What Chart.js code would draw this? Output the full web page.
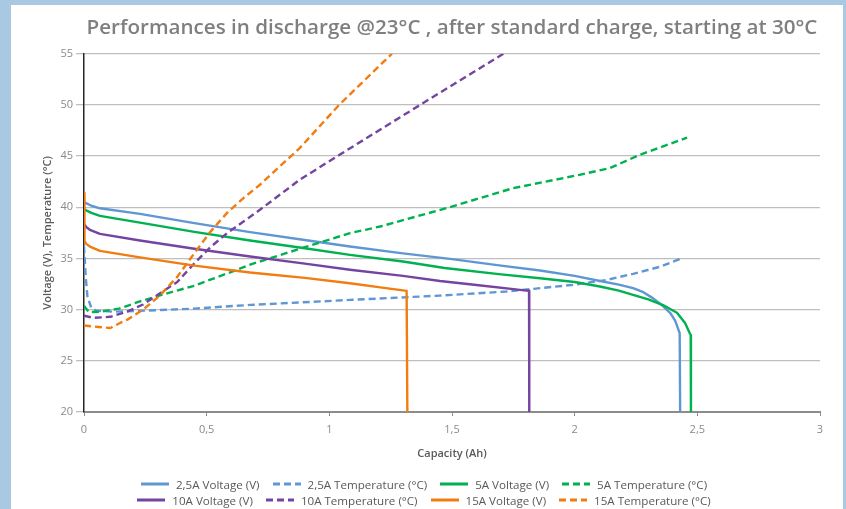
<!DOCTYPE html>
<html><head><meta charset="utf-8">
<script src="https://cdn.jsdelivr.net/npm/chart.js@4/dist/chart.umd.min.js"></script>
<style>
html,body{margin:0;padding:0;}
body{width:846px;height:509px;background:#a9c9e2;position:relative;overflow:hidden;font-family:'Open Sans',sans-serif;}
#panel{position:absolute;left:11px;top:5px;width:832px;height:504px;background:#fff;}
#c{position:absolute;left:0;top:0;}
#legend{position:absolute;left:-3px;top:471px;width:832px;font-size:11.6px;color:#595959;}
.row{display:flex;justify-content:center;gap:13px;height:16px;align-items:center;}
.item{display:flex;align-items:center;gap:7px;white-space:nowrap;}
</style></head><body>
<div id="panel"><canvas id="c" width="832" height="504"></canvas><div id="legend"></div></div>
<script>
const TITLE = 'Performances in discharge @23°C , after standard charge, starting at 30°C';
const X_TITLE = 'Capacity (Ah)';
const Y_TITLE = 'Voltage (V), Temperature (°C)';

// 2,5A
const cap25V  = [0, 0.03, 0.065, 0.228, 0.45, 0.677, 0.9, 1.084, 1.3, 1.492, 1.7, 1.859, 2.0, 2.103, 2.18, 2.238, 2.28, 2.32, 2.36, 2.39, 2.41, 2.428, 2.43];
const volt25  = [40.5, 40.15, 39.9, 39.36, 38.45, 37.57, 36.8, 36.17, 35.5, 34.96, 34.3, 33.82, 33.3, 32.8, 32.45, 32.1, 31.7, 31.1, 30.35, 29.65, 28.9, 27.7, 20];
const cap25T  = [0, 0.007, 0.014, 0.03, 0.05, 0.12, 0.3, 0.45, 0.677, 1.084, 1.451, 1.723, 1.993, 2.13, 2.238, 2.35, 2.44];
const temp25  = [36.2, 33.2, 31.3, 30.14, 29.9, 29.8, 29.95, 30.1, 30.46, 30.95, 31.37, 31.77, 32.42, 32.9, 33.5, 34.2, 35.05];
// 5A
const cap5V   = [0, 0.03, 0.065, 0.228, 0.45, 0.677, 0.9, 1.084, 1.3, 1.47, 1.7, 1.859, 2.0, 2.103, 2.18, 2.238, 2.3, 2.36, 2.417, 2.45, 2.473, 2.474];
const volt5   = [39.8, 39.45, 39.16, 38.5, 37.6, 36.75, 36.0, 35.35, 34.7, 34.07, 33.45, 33.06, 32.7, 32.26, 31.85, 31.44, 31.0, 30.45, 29.7, 28.7, 27.5, 20];
const cap5T   = [0, 0.02, 0.065, 0.143, 0.228, 0.31, 0.445, 0.58, 0.677, 0.9, 1.084, 1.207, 1.478, 1.75, 2.02, 2.144, 2.266, 2.458];
const temp5   = [30.37, 29.75, 29.8, 30.1, 30.8, 31.4, 32.3, 33.5, 34.4, 36.1, 37.47, 38.12, 39.92, 41.87, 43.17, 43.83, 45.13, 46.8];
// 10A
const cap10V  = [0, 0.01, 0.024, 0.065, 0.228, 0.45, 0.677, 0.9, 1.084, 1.3, 1.451, 1.6, 1.777, 1.814, 1.815];
const volt10  = [38.4, 38.05, 37.8, 37.4, 36.75, 35.95, 35.19, 34.5, 33.9, 33.3, 32.8, 32.4, 31.93, 31.85, 20];
const cap10T  = [0, 0.04, 0.107, 0.175, 0.241, 0.31, 0.38, 0.445, 0.515, 0.585, 0.65, 0.717, 0.88, 1.04, 1.37, 1.71];
const temp10  = [29.4, 29.2, 29.3, 29.8, 30.5, 31.6, 32.7, 34.4, 36.1, 37.5, 38.6, 39.75, 42.7, 45.1, 50.0, 55.0];
// 15A
const cap15V  = [0, 0.002, 0.01, 0.024, 0.065, 0.228, 0.45, 0.677, 0.9, 1.084, 1.2, 1.315, 1.318];
const volt15  = [41.4, 36.7, 36.4, 36.16, 35.74, 35.1, 34.3, 33.63, 33.1, 32.58, 32.2, 31.83, 20];
const cap15T  = [0, 0.06, 0.107, 0.147, 0.175, 0.241, 0.31, 0.38, 0.445, 0.515, 0.585, 0.65, 0.717, 0.88, 1.04, 1.255];
const temp15  = [28.45, 28.3, 28.2, 28.7, 29.0, 30.0, 31.4, 33.2, 35.35, 37.6, 39.5, 40.9, 42.2, 45.8, 50.0, 55.0];

const seriesLabels = ['2,5A Voltage (V)', '2,5A Temperature (°C)', '5A Voltage (V)', '5A Temperature (°C)',
                      '10A Voltage (V)', '10A Temperature (°C)', '15A Voltage (V)', '15A Temperature (°C)'];
const xTickLabels = ['0', '0,5', '1', '1,5', '2', '2,5', '3'];

const BLUE = '#5f97d2', GREEN = '#00b150', PURPLE = '#7444a0', ORANGE = '#f27c10';
const DASH = [7, 4];

function pts(xs, ys) { return xs.map((x, i) => ({ x: x, y: ys[i] })); }

const seriesData = [pts(cap25V, volt25), pts(cap25T, temp25), pts(cap5V, volt5), pts(cap5T, temp5),
                    pts(cap10V, volt10), pts(cap10T, temp10), pts(cap15V, volt15), pts(cap15T, temp15)];
const seriesColors = [BLUE, BLUE, GREEN, GREEN, PURPLE, PURPLE, ORANGE, ORANGE];

const datasets = seriesData.map((d, i) => ({
  label: seriesLabels[i],
  data: d,
  borderColor: seriesColors[i],
  backgroundColor: seriesColors[i],
  borderWidth: 2.4,
  borderDash: i % 2 === 1 ? DASH : [],
  borderCapStyle: 'butt',
  borderJoinStyle: 'round',
  pointRadius: 0,
  tension: 0,
  fill: false,
  order: seriesData.length - i
}));

Chart.defaults.font.family = "'Open Sans', sans-serif";

new Chart(document.getElementById('c'), {
  type: 'line',
  data: { datasets: datasets },
  options: {
    responsive: false,
    animation: false,
    devicePixelRatio: 1,
    layout: { padding: { left: 0, right: 23, top: 0, bottom: 42 } },
    plugins: {
      legend: { display: false },
      tooltip: { enabled: false },
      title: {
        display: true, text: TITLE, color: '#7f7f7f', fullSize: false,
        font: { size: 20.6, weight: '600' },
        padding: { top: 11, bottom: 13 }
      }
    },
    scales: {
      x: {
        type: 'linear', min: 0, max: 3,
        ticks: {
          stepSize: 0.5, color: '#8a8a8a', font: { size: 11 }, padding: 7, maxRotation: 0,
          callback: (v) => { const i = Math.round(v / 0.5); return xTickLabels[i] !== undefined ? xTickLabels[i] : ''; }
        },
        grid: { drawOnChartArea: false, tickLength: 4, color: '#8c8c8c', lineWidth: 1 },
        border: { color: '#8c8c8c', width: 2 },
        title: { display: true, text: X_TITLE, color: '#595959', font: { size: 11, weight: '600' }, padding: { top: 0, bottom: 7 } },
        afterFit: (s) => { s.height = 55; }
      },
      y: {
        min: 20, max: 55,
        ticks: { stepSize: 5, color: '#8a8a8a', font: { size: 11 }, padding: 3 },
        grid: { color: '#bfbfbf', lineWidth: 1.3, tickLength: 8 },
        border: { color: '#262626', width: 1.5 },
        title: { display: true, text: Y_TITLE, color: '#595959', font: { size: 11, weight: '600' }, padding: { top: 30, bottom: 0 } },
        afterFit: (s) => { s.width = 73; }
      }
    }
  }
});

// HTML legend (two rows of four), built from the datasets
const legend = document.getElementById('legend');
for (let r = 0; r < 2; r++) {
  const row = document.createElement('div');
  row.className = 'row';
  for (let k = 0; k < 4; k++) {
    const ds = datasets[r * 4 + k];
    const item = document.createElement('div');
    item.className = 'item';
    const dash = ds.borderDash.length ? 'stroke-dasharray="7 4"' : '';
    item.innerHTML = '<svg width="28" height="4"><line x1="0" y1="2" x2="28" y2="2" stroke="' + ds.borderColor + '" stroke-width="3" ' + dash + '/></svg><span></span>';
    item.querySelector('span').textContent = ds.label;
    row.appendChild(item);
  }
  legend.appendChild(row);
}
</script></body></html>
